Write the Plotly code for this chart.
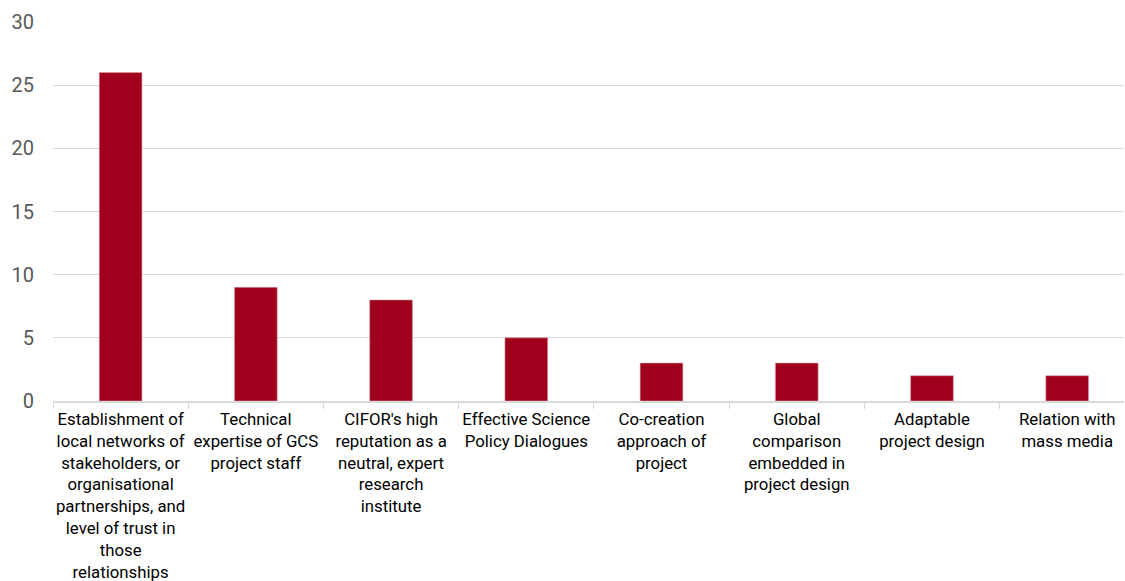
import plotly.graph_objects as go

categories = [
    "Establishment of<br>local networks of<br>stakeholders, or<br>organisational<br>partnerships, and<br>level of trust in<br>those<br>relationships",
    "Technical<br>expertise of GCS<br>project staff",
    "CIFOR's high<br>reputation as a<br>neutral, expert<br>research<br>institute",
    "Effective Science<br>Policy Dialogues",
    "Co-creation<br>approach of<br>project",
    "Global<br>comparison<br>embedded in<br>project design",
    "Adaptable<br>project design",
    "Relation with<br>mass media",
]
counts = [26, 9, 8, 5, 3, 3, 2, 2]
y_ticks = [0, 5, 10, 15, 20, 25, 30]

fig = go.Figure(
    go.Bar(
        x=categories,
        y=counts,
        marker=dict(color="#A0001B", line=dict(color="#D9A0A8", width=0.6)),
        hoverinfo="skip",
    )
)

fig.update_layout(
    width=1125,
    height=581,
    margin=dict(l=53, r=1, t=22, b=180),
    paper_bgcolor="white",
    plot_bgcolor="white",
    bargap=0.684,
    showlegend=False,
    font=dict(family="Roboto", color="#000000"),
)

# the category band runs slightly past the right edge of the canvas
fig.update_xaxes(
    type="category",
    range=[-0.5, 7.42],
    automargin=False,
    showline=True,
    linecolor="#D9D9D9",
    linewidth=1.5,
    ticks="outside",
    tickson="boundaries",
    ticklen=6,
    tickcolor="#D9D9D9",
    tickfont=dict(family="Roboto", size=16.8, color="#000000"),
    tickangle=0,
    ticklabelstandoff=2,
    showgrid=False,
)

fig.update_yaxes(
    range=[0, 30],
    tickvals=y_ticks,
    automargin=False,
    showgrid=True,
    gridcolor="#D9D9D9",
    gridwidth=1.2,
    zeroline=False,
    showline=False,
    tickfont=dict(family="Roboto", size=20, color="#595959"),
    ticks="",
    ticklabelstandoff=18,
)

fig.write_html("out.html")
